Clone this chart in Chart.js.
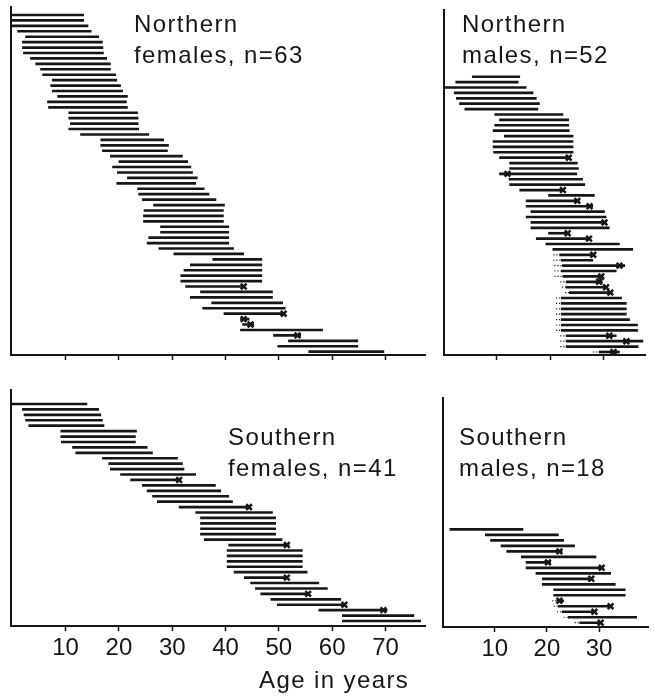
<!DOCTYPE html>
<html>
<head>
<meta charset="utf-8">
<script src="https://cdn.jsdelivr.net/npm/chart.js@4.4.1/dist/chart.umd.min.js"></script>
<style>
  html, body { margin: 0; padding: 0; background: #fff; }
  body { width: 655px; height: 696px; position: relative; overflow: hidden; }
  canvas { position: absolute; }
</style>
</head>
<body>
<canvas id="nf" width="432" height="365" style="left:0;top:0"></canvas>
<canvas id="nm" width="223" height="365" style="left:432px;top:0"></canvas>
<canvas id="sf" width="432" height="326" style="left:0;top:370px"></canvas>
<canvas id="sm" width="223" height="326" style="left:432px;top:370px"></canvas>
<script>
// Tick labels (age in years)
const femaleTicks = [10, 20, 30, 40, 50, 60, 70];
const maleTicks = [10, 20, 30];

// Northern females: first and last age of each individual (one row each)
const nfStart = [0, 0, 0, 1, 2.5, 1.9, 1.9, 2.1, 3.4, 4.4,
  5.3, 5.7, 7.5, 7.2, 7.5, 8.5, 6.6, 6.8, 10.6, 10.6,
  10.9, 10.6, 12.8, 16.6, 16.6, 16.9, 18.4, 20, 18.8, 19.7,
  21.6, 19.6, 23.5, 23.7, 24.4, 26.5, 24.7, 24.6, 24.6, 27.8,
  27.8, 25.6, 25.3, 27.5, 30.3, 37.6, 33.4, 32.2, 31.6, 31.6,
  32.5, 35.3, 33.4, 37.4, 35.7, 39.7, 42.8, 43.2, 42.8, 49,
  51.8, 49.8, 55.6];
const nfEnd = [13.4, 13.4, 14.2, 14.8, 16.2, 16.9, 17, 17.1, 17.7, 18.4,
  18.4, 19.4, 19.6, 20.3, 20.7, 21.6, 21.4, 21.6, 23.5, 23.6,
  23.6, 23.7, 25.6, 28.4, 29.3, 29.1, 31.9, 32.9, 33.5, 33.8,
  34.7, 34.4, 36, 36.9, 38.2, 39.8, 39.6, 39.6, 39.6, 40.6,
  40.6, 40.6, 40.6, 41.5, 43.4, 46.8, 46.8, 46.8, 46.8, 46.8,
  43.6, 48.8, 48.8, 50.7, 51.2, 51, 44.4, 45.3, 58.2, 54.1,
  64.8, 64.8, 69.7];
const nfMarkRow = [51, 56, 57, 58, 60];
const nfMarkAge = [43.4, 50.9, 43.4, 44.7, 53.5];

// Northern males
const nmStart = [5.4, 2.3, 0, 2, 2.4, 3, 4, 9.6, 10.5, 9.6,
  9.3, 11.4, 9.3, 9.3, 9.4, 10.5, 12.4, 12.4, 10.5, 12.3,
  12.4, 14.3, 19.7, 15.5, 15.5, 16.4, 15.5, 16.4, 16.4, 19.7,
  17.4, 19.2, 20.5, 21.8, 22.1, 22.3, 22.1, 22.4, 23, 23,
  23.6, 22.1, 22.1, 22.1, 22.1, 22.1, 22.1, 22.1, 23, 23,
  23, 29.2];
const nmEnd = [14.3, 14, 15.5, 16.8, 17.4, 18, 17.7, 22.4, 23.5, 23.5,
  23.6, 24.3, 24.3, 24.3, 24.3, 23.6, 25.1, 25.3, 25, 26.1,
  26.5, 22.7, 28.3, 25.5, 28, 30.2, 30.5, 30.5, 31.1, 23.6,
  27.4, 33, 35.5, 28.3, 28, 34, 32.4, 29.9, 29.8, 30.8,
  31.6, 33.4, 34.3, 34.3, 34.3, 34.9, 36.4, 36.4, 32.4, 37.4,
  36.5, 33];
const nmMarkRow = [16, 19, 22, 24, 25, 28, 30, 31, 34, 36, 38, 39, 40, 41, 49, 50, 52];
const nmMarkAge = [23.5, 12, 22.4, 25.1, 27.4, 30.2, 23.3, 27.3, 28.1, 33, 29.6, 29.2, 30.5, 31.3, 31.1, 34.3, 31.9];
// Uncertain earlier span (dotted), ending where the solid span starts
const nmDotRow = [34, 35, 36, 37, 38, 39, 40, 41, 42, 43, 44, 45, 46, 47, 48, 49, 50, 51, 52];
const nmDotFrom = [20.6, 20.6, 20.8, 20.8, 20.8, 21.9, 22.2, 22.8, 21.1, 21.1, 21.1, 21.1, 21.1, 21.1, 21.1, 21.9, 21.9, 21.9, 28];

// Southern females
const sfStart = [0, 1.9, 2.2, 2.5, 3.1, 9.1, 9.1, 9.2, 11.3, 11.9,
  16.9, 18.1, 18.4, 20.3, 22.2, 24.4, 25.3, 26.3, 27.2, 31.3,
  34.4, 35.3, 35.3, 35.3, 35.3, 36, 40.6, 40.3, 40.3, 40.3,
  40.3, 41.6, 43.5, 44.7, 45.6, 46.6, 48.5, 49.7, 57.5, 61.9,
  61.9];
const sfEnd = [14, 16.2, 16.6, 16.9, 17.2, 23.3, 23.1, 23.1, 25.3, 26.3,
  31, 31.9, 32.2, 34.4, 31.6, 38.1, 39.1, 40.6, 41.3, 44.1,
  48.8, 49.4, 49.4, 49.4, 49.4, 50.6, 51.9, 54.4, 54.4, 54.4,
  54.4, 55.3, 51.6, 57.5, 59.1, 55.6, 61.6, 62.5, 70.3, 75.3,
  76.6];
const sfMarkRow = [15, 20, 27, 33, 36, 38, 39];
const sfMarkAge = [31.3, 44.4, 51.5, 51.5, 55.5, 62.3, 69.6];

// Southern males
const smStart = [1.4, 8.2, 9.2, 11.2, 12.3, 15.1, 16, 16, 17.9, 19.1,
  19.1, 21.3, 21.3, 21.9, 22.2, 22.9, 24.1, 26.3];
const smEnd = [15.4, 22.2, 23.2, 25.3, 22.9, 29.4, 20.7, 30.6, 32.2, 28.8,
  33.1, 35, 35, 23.2, 32.5, 29.4, 37.2, 30.5];
const smMarkRow = [5, 7, 8, 10, 14, 15, 16, 18];
const smMarkAge = [22.4, 20.2, 30.5, 28.5, 22.4, 32.2, 29.1, 30.3];
const smDotRow = [14, 15, 16, 17, 18];
const smDotFrom = [21, 21.3, 21.9, 23.2, 25.3];

const INK = '#161616';
const FONT = "'Liberation Sans', Arial, Helvetica, sans-serif";

// Draws the panel captions and the axis title as canvas text
const captionPlugin = {
  id: 'caption',
  afterDraw(chart, args, opts) {
    const ctx = chart.ctx;
    ctx.save();
    ctx.fillStyle = INK;
    ctx.font = '24px ' + FONT;
    ctx.textBaseline = 'alphabetic';
    ctx.textAlign = 'left';
    if ('letterSpacing' in ctx) ctx.letterSpacing = '1.4px';
    (opts.lines || []).forEach(l => ctx.fillText(l.text, l.x, l.y));
    ctx.restore();
  }
};

function panel(id, d, g) {
  const datasets = [{
    type: 'bar',
    indexAxis: 'y',
    data: d.start.map((s, i) => ({ y: i + 1, x: [s, d.end[i]] })),
    backgroundColor: INK,
    borderWidth: 0,
    barThickness: 2,
    order: 3
  }];
  (d.dotRow || []).forEach((r, k) => {
    datasets.push({
      type: 'line',
      indexAxis: 'x',
      data: [{ x: d.dotFrom[k], y: r }, { x: d.start[r - 1], y: r }],
      borderColor: INK,
      borderWidth: 1.2,
      borderDash: [1.2, 1.8],
      pointRadius: 0,
      order: 2
    });
  });
  datasets.push({
    type: 'scatter',
    indexAxis: 'x',
    data: d.markRow.map((r, k) => ({ x: d.markAge[k], y: r })),
    pointStyle: 'crossRot',
    pointRadius: 4,
    borderWidth: 2.5,
    borderColor: INK,
    backgroundColor: INK,
    order: 1
  });

  new Chart(document.getElementById(id), {
    type: 'bar',
    data: { datasets },
    options: {
      indexAxis: 'y',
      responsive: false,
      animation: false,
      events: [],
      layout: { padding: { left: g.pad[0], top: g.pad[1], right: g.pad[2], bottom: 0 } },
      plugins: {
        legend: { display: false },
        tooltip: { enabled: false },
        caption: { lines: g.lines }
      },
      scales: {
        x: {
          type: 'linear',
          position: 'bottom',
          min: g.xMin,
          max: g.xMax,
          offset: false,
          afterFit(s) { s.height = g.axisH; },
          afterBuildTicks(s) { s.ticks = d.ticks.map(v => ({ value: v })); },
          grid: {
            display: true, drawOnChartArea: false, drawTicks: true,
            tickLength: 5, tickWidth: 1.5, tickColor: INK, offset: false
          },
          border: { display: true, color: INK, width: 2 },
          ticks: {
            display: g.showLabels,
            autoSkip: false,
            maxRotation: 0,
            padding: 3,
            color: INK,
            font: { family: FONT, size: 24 }
          }
        },
        y: {
          type: 'linear',
          reverse: true,
          min: g.yMin,
          max: g.yMax,
          offset: false,
          afterFit(s) { s.width = 0; },
          grid: { display: false, offset: false },
          ticks: { display: false },
          border: { display: true, color: INK, width: 2 }
        }
      }
    },
    plugins: [captionPlugin]
  });
}

panel('nf',
  { start: nfStart, end: nfEnd, markRow: nfMarkRow, markAge: nfMarkAge, ticks: femaleTicks },
  { pad: [11, 7, 5], axisH: 10, xMin: -0.24, xMax: 77.5, yMin: -0.47, yMax: 63.61, showLabels: false,
    lines: [{ text: 'Northern', x: 134, y: 32 }, { text: 'females, n=63', x: 134, y: 63 }] });

panel('nm',
  { start: nmStart, end: nmEnd, markRow: nmMarkRow, markAge: nmMarkAge, dotRow: nmDotRow, dotFrom: nmDotFrom, ticks: maleTicks },
  { pad: [12, 10, 10], axisH: 10, xMin: 0.09, xMax: 37.8, yMin: -11.36, yMax: 52.56, showLabels: false,
    lines: [{ text: 'Northern', x: 30, y: 32 }, { text: 'males, n=52', x: 30, y: 63 }] });

panel('sf',
  { start: sfStart, end: sfEnd, markRow: sfMarkRow, markAge: sfMarkAge, ticks: femaleTicks },
  { pad: [11, 20, 5], axisH: 70, xMin: -0.24, xMax: 77.5, yMin: -1.58, yMax: 41.92, showLabels: true,
    lines: [{ text: 'Southern', x: 228, y: 75 }, { text: 'females, n=41', x: 228, y: 106 },
            { text: 'Age in years', x: 259, y: 318 }] });

panel('sm',
  { start: smStart, end: smEnd, markRow: smMarkRow, markAge: smMarkAge, dotRow: smDotRow, dotFrom: smDotFrom, ticks: maleTicks },
  { pad: [11, 28, 1], axisH: 69, xMin: 0.09, xMax: 39.46, yMin: -22.94, yMax: 18.78, showLabels: true,
    lines: [{ text: 'Southern', x: 27, y: 75 }, { text: 'males, n=18', x: 27, y: 106 }] });
</script>
</body>
</html>
